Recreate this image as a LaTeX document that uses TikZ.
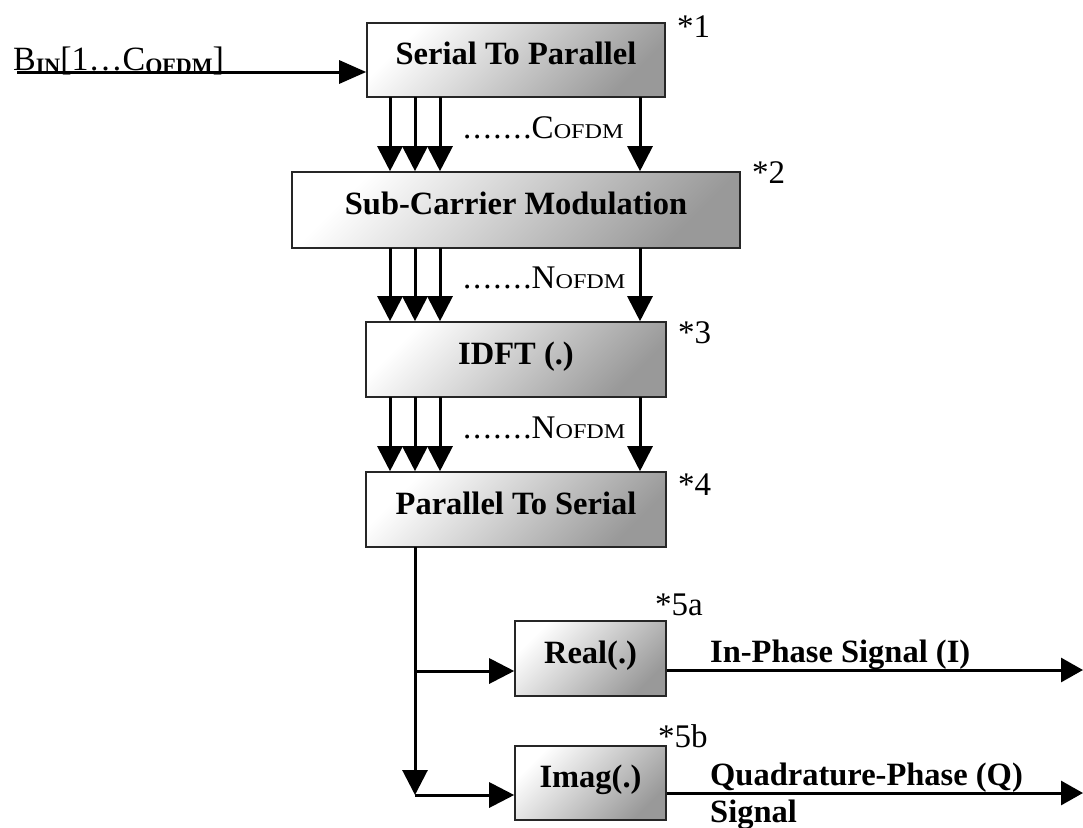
\documentclass[tikz,border=0pt]{standalone}
\usepackage{fontspec}
\setmainfont{Liberation Serif}
\usetikzlibrary{arrows.meta}
% small capitals used as the OFDM / IN indices
\newcommand\idx[1]{\scalebox{1.15}[1]{\fontsize{21}{21}\selectfont #1}}
\newcommand\bidx[1]{\raisebox{-3pt}{\fontsize{22}{22}\selectfont\bfseries #1}}
\newcommand\dotrun{.\kern1.8pt.\kern1.8pt.\kern1.8pt.\kern1.8pt.\kern1.8pt.\kern1.8pt.}
\begin{document}
\begin{tikzpicture}[x=1pt,y=-1pt,
  blk/.style={draw=black!85, line width=1.6pt, top color=white, bottom color=black!40,
    shading angle=45, inner sep=0pt, text height=22pt, text depth=13pt,
    font=\fontsize{32.5}{36}\selectfont\bfseries},
  arr/.style={line width=3pt, -{Triangle[length=25pt,width=25pt]}},
  tag/.style={anchor=base west, inner sep=0pt, font=\fontsize{33}{36}\selectfont},
  chan/.style={anchor=base west, inner sep=0pt, font=\fontsize{33}{36}\selectfont},
  sig/.style={anchor=base west, inner sep=0pt, font=\fontsize{32.5}{36}\selectfont\bfseries},
]
\useasboundingbox (0,0) rectangle (1083,827);

% processing blocks
\node[blk, minimum width=298pt, minimum height=74pt] (s2p) at (516,60) {Serial To Parallel};
\node[blk, minimum width=448pt, minimum height=76pt] (mod) at (516,210) {Sub-Carrier Modulation};
\node[blk, minimum width=300pt, minimum height=75pt] (idft) at (516,359.5) {IDFT (.)};
\node[blk, minimum width=300pt, minimum height=75pt] (p2s) at (516,509.5) {Parallel To Serial};
\node[blk, minimum width=151pt, minimum height=75pt] (re) at (590.5,658.5) {Real(.)};
\node[blk, minimum width=151pt, minimum height=74pt] (im) at (590.5,783) {Imag(.)};

% block numbers
\node[tag] (n1) at (677,37) {*1};
\node[tag] (n2) at (752,183) {*2};
\node[tag] (n3) at (678,343) {*3};
\node[tag] (n4) at (678,495) {*4};
\node[tag] (n5a) at (655,615) {*5a};
\node[tag] (n5b) at (658,747) {*5b};

% input bit stream
\coordinate (bin) at (17,72);
\node[anchor=base west, inner sep=0pt, font=\fontsize{34}{38}\selectfont] (binl) at (13,70)
  {B\bidx{IN}[1\ldots C\bidx{OFDM}]};
\draw[arr, -{Triangle[length=27pt,width=23pt]}] (bin) -- (bin -| s2p.west);

% parallel branches between stages
\foreach \x in {390,415,440,640}{
  \draw[arr] (\x,97) coordinate (a) -- (a |- mod.north);
  \draw[arr] (\x,248) coordinate (b) -- (b |- idft.north);
  \draw[arr] (\x,397) coordinate (c) -- (c |- p2s.north);
}
\node[chan] (c1) at (463,138) {\dotrun C\idx{OFDM}};
\node[chan] (c2) at (463,288) {\dotrun N\idx{OFDM}};
\node[chan] (c3) at (463,438) {\dotrun N\idx{OFDM}};

% split into real and imaginary parts
\coordinate (tap) at (415,547);
\coordinate (ti) at (415,671);
\coordinate (tq) at (415,795);
\draw[arr] (tap) -- (tq);
\draw[arr] (ti) -- (ti -| re.west);
\draw[arr] (tq) -- (tq -| im.west);

% outputs
\coordinate (iout) at (1083,670);
\coordinate (qout) at (1083,793);
\draw[arr, -{Triangle[length=22pt,width=24pt]}] (iout -| re.east) -- (iout);
\draw[arr, -{Triangle[length=22pt,width=24pt]}] (qout -| im.east) -- (qout);
\node[sig] (il) at (710,662) {In-Phase Signal (I)};
\node[sig] (ql) at (710,785) {Quadrature-Phase (Q)};
\node[sig] (ql2) at (710,822) {Signal};
\end{tikzpicture}
\end{document}
